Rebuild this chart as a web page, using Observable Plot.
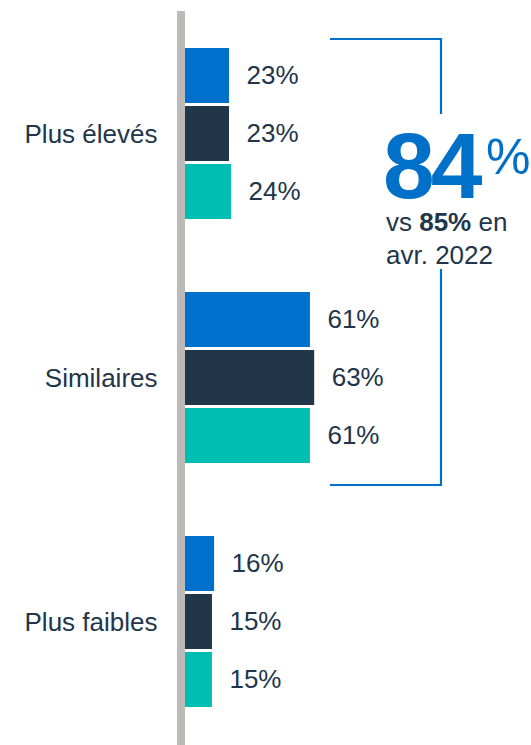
<!DOCTYPE html>
<html>
<head>
<meta charset="utf-8">
<script src="https://cdn.jsdelivr.net/npm/d3@7"></script>
<script src="https://cdn.jsdelivr.net/npm/@observablehq/plot@0.6"></script>
<style>
  html, body { margin: 0; padding: 0; background: #ffffff; }
  #chart { width: 531px; height: 745px; }
</style>
</head>
<body>
<div id="chart"></div>
<script>
// ---- Data ----
const groups = ["Plus élevés", "Similaires", "Plus faibles"];
const series = ["Vague actuelle", "Vague précédente", "Avr. 2022"];
const valuesActuelle = [23, 61, 16];
const valuesPrecedente = [23, 63, 15];
const valuesAvr2022 = [24, 61, 15];
const seriesColors = ["#0070cd", "#213649", "#00bfb2"];
const totalLabel = "84";
const compareParts = ["vs", "85%", "en"];
const compareDate = "avr. 2022";

const seriesValues = [valuesActuelle, valuesPrecedente, valuesAvr2022];
const rows = [];
groups.forEach((g, gi) => {
  series.forEach((s, si) => {
    rows.push({group: g, series: s, value: seriesValues[si][gi]});
  });
});

const textColor = "#22354a";
const accent = "#0070c9";

const chart = Plot.plot({
  width: 531,
  height: 745,
  marginLeft: 180,
  marginRight: 138,
  marginTop: 46,
  marginBottom: 34,
  x: {domain: [0, 100], axis: null},
  y: {domain: series, axis: null, paddingInner: 0.045, paddingOuter: 0},
  fy: {domain: groups, paddingInner: 0.285, paddingOuter: 0, label: null},
  color: {domain: series, range: seriesColors},
  style: {fontFamily: "'Liberation Sans', Arial, sans-serif", fontSize: "26px", color: textColor, background: "#ffffff"},
  marks: [
    Plot.barX(rows, {x: "value", y: "series", fy: "group", fill: "series"}),
    Plot.text(rows, {x: "value", y: "series", fy: "group", text: d => d.value + "%", dx: 17, textAnchor: "start", fill: textColor, fontSize: 26}),
    Plot.axisFy({anchor: "left", tickSize: 0, tickPadding: 23, label: null, fontSize: 26, fill: textColor})
  ]
});

document.getElementById("chart").appendChild(chart);

// ---- Overlays positioned from the plot's own scales ----
const xs = chart.scale("x");
const fys = chart.scale("fy");
const svg = d3.select(chart);
const x0 = xs.apply(0);
const top0 = fys.apply(groups[0]);
const bw = fys.bandwidth;
const bottom1 = fys.apply(groups[1]) + bw;

// gray baseline
svg.append("line")
  .attr("x1", x0 + 1).attr("x2", x0 + 1)
  .attr("y1", top0 - 36).attr("y2", 745)
  .attr("stroke", "#bdbbb9").attr("stroke-width", 8);

// bracket
const bl = x0 + 150, br = x0 + 261;
const bt = top0 - 8, bb = bottom1 + 20;
svg.append("path")
  .attr("d", `M${bl},${bt} H${br} V${top0 + 67} M${br},${top0 + 222} V${bb} H${bl}`)
  .attr("fill", "none").attr("stroke", accent).attr("stroke-width", 2.2);

// annotation text
const ann = svg.append("g").attr("text-anchor", "start");
const ax = x0 + 203;
ann.append("text")
  .attr("x", ax).attr("y", top0 + 151)
  .attr("fill", accent).attr("font-size", 93).attr("font-weight", "bold")
  .attr("letter-spacing", -4)
  .text(totalLabel);
ann.append("text")
  .attr("x", x0 + 306).attr("y", top0 + 127)
  .attr("fill", accent).attr("font-size", 50)
  .text("%");
// "vs 85% en" as separate words laid out by measured widths
let cx = ax + 3;
const spaceW = 7.2;
compareParts.forEach((w, i) => {
  const t = ann.append("text")
    .attr("x", cx).attr("y", top0 + 184)
    .attr("fill", textColor).attr("font-size", 26)
    .attr("font-weight", i === 1 ? "bold" : null)
    .text(w);
  cx += t.node().getComputedTextLength() + spaceW;
});
ann.append("text")
  .attr("x", ax + 3).attr("y", top0 + 217)
  .attr("fill", textColor).attr("font-size", 26)
  .text(compareDate);
</script>
</body>
</html>
